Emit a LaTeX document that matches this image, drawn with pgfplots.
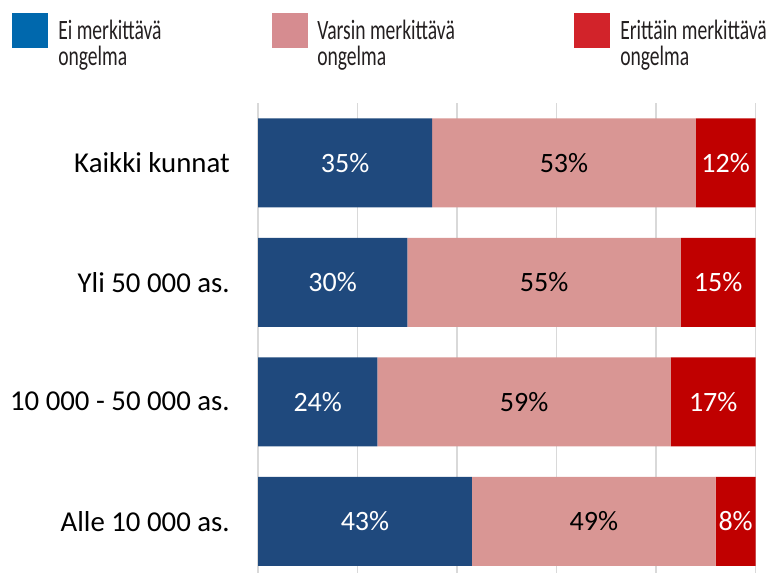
\documentclass[border=0pt]{standalone}
\usepackage{pgfplots}
\pgfplotsset{compat=1.18}
\usepackage{fontspec}
\setmainfont{Carlito}
\newfontfamily\legfont[FakeStretch=0.7]{Carlito}
\definecolor{barblue}{HTML}{1F497D}
\definecolor{barpink}{HTML}{D99694}
\definecolor{barred}{HTML}{C00000}
\definecolor{legblue}{HTML}{0068AD}
\definecolor{legpink}{HTML}{D68C90}
\definecolor{legred}{HTML}{D2232A}
\definecolor{legtext}{HTML}{231F20}
\definecolor{gridgray}{HTML}{D9D9D9}
\begin{document}
\begin{tikzpicture}
\path[use as bounding box] (0,0) rectangle (579.75pt,-429pt);
% legend
\fill[legblue] (9pt,-9.75pt) rectangle (36pt,-36pt);
\fill[legpink] (204pt,-9.75pt) rectangle (231pt,-36pt);
\fill[legred] (430.5pt,-9.75pt) rectangle (457.5pt,-36pt);
\begin{scope}[every node/.style={anchor=base west, inner sep=0pt, text=legtext, font=\legfont\fontsize{21}{25}\selectfont}]
\node at (43.5pt,-29.25pt) {Ei merkittävä};
\node at (43.5pt,-48.75pt) {ongelma};
\node at (237.75pt,-29.25pt) {Varsin merkittävä};
\node at (237.75pt,-48.75pt) {ongelma};
\node at (465pt,-29.25pt) {Erittäin merkittävä};
\node at (465pt,-48.75pt) {ongelma};
\end{scope}
\begin{axis}[
  at={(193.5pt,-435.75pt)}, anchor=south west,
  scale only axis, width=373.125pt, height=358.5pt,
  xbar stacked, bar width=66.75pt,
  xmin=0, xmax=100, ymin=-0.5, ymax=3.5,
  xtick={0,20,...,100}, xticklabels={},
  xmajorgrids, grid style={draw=gridgray, line width=1.1pt},
  ytick={0,1,2,3},
  yticklabels={Alle 10 000 as., 10 000 - 50 000 as., Yli 50 000 as., Kaikki kunnat},
  axis line style={draw=none}, major tick length=0pt,
  yticklabel style={font=\fontsize{21.6}{26}\selectfont, inner sep=0pt, xshift=-21pt},
  /pgf/number format/assume math mode=true,
  nodes near coords={\pgfmathprintnumber[assume math mode=true]{\pgfplotspointmeta}\%},
  every node near coord/.append style={font=\fontsize{21}{25}\selectfont},
]
\addplot[fill=barblue, draw=none, every node near coord/.append style={text=white}]
  coordinates {(43,0) (24,1) (30,2) (35,3)};
\addplot[fill=barpink, draw=none, every node near coord/.append style={text=black}]
  coordinates {(49,0) (59,1) (55,2) (53,3)};
\addplot[fill=barred, draw=none, every node near coord/.append style={text=white}]
  coordinates {(8,0) (17,1) (15,2) (12,3)};
\end{axis}
\end{tikzpicture}
\end{document}
